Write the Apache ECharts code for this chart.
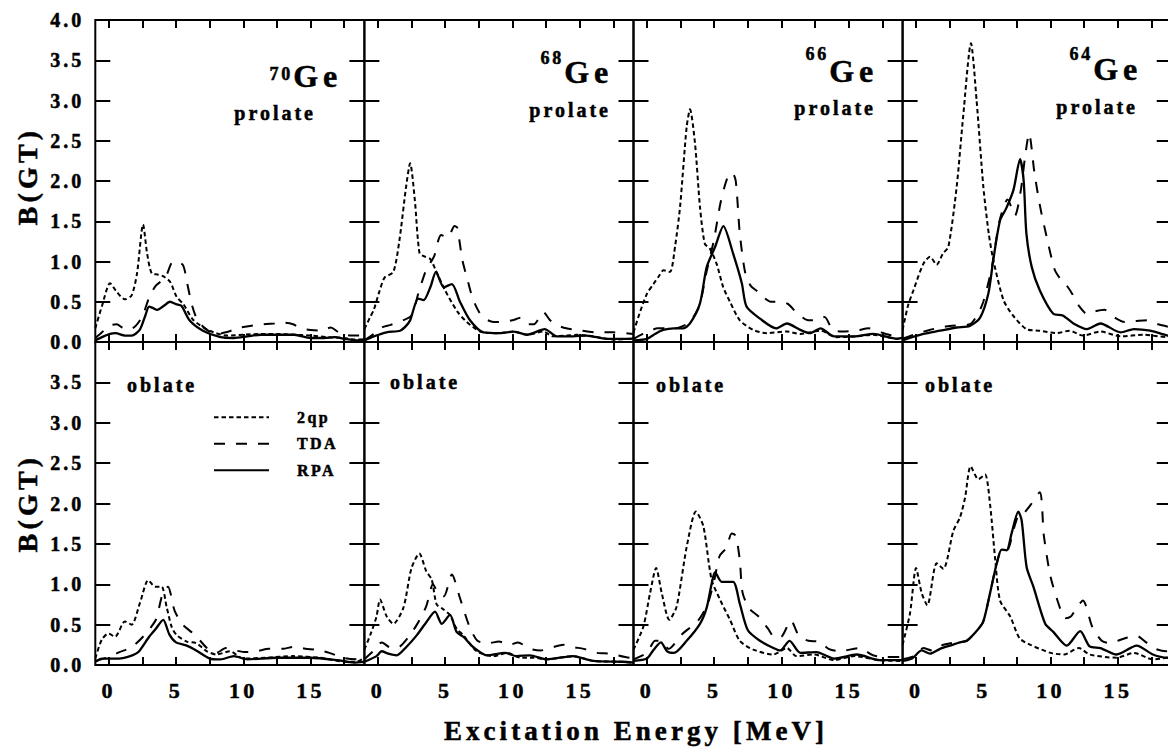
<!DOCTYPE html>
<html>
<head>
<meta charset="utf-8">
<script src="https://cdn.jsdelivr.net/npm/echarts@6/dist/echarts.min.js"></script>
<style>
  html, body { margin: 0; padding: 0; background: #fff; }
  #chart { width: 1168px; height: 751px; }
  /* spaced-out typesetting for every label */
  #chart svg text { letter-spacing: 0.15em; }
</style>
</head>
<body>
<div id="chart"></div>
<script>
// Gamow-Teller strength distributions B(GT) vs excitation energy (MeV), [E, B]
// ---- 70Ge ----
const ge70ProlateQp = [[-1,0.17],[-0.5,0.45],[0.1,0.73],[0.6,0.62],[1.2,0.53],[1.7,0.58],[2.1,0.85],[2.55,1.46],[2.85,1.1],[3.2,0.85],[3.6,0.84],[4.0,0.82],[4.55,0.75],[5.05,0.56],[5.55,0.47],[6.3,0.27],[7.5,0.14],[8.8,0.08],[10,0.09],[11.3,0.1],[12.5,0.1],[13.8,0.09],[15,0.08],[16.3,0.06],[17.5,0.05],[18.3,0.03],[19,0.03]];
const ge70ProlateTda = [[-1,0.05],[-0.5,0.12],[0,0.2],[0.6,0.22],[1.0,0.18],[1.5,0.15],[2.0,0.2],[2.5,0.32],[3.0,0.55],[3.5,0.7],[4.2,0.8],[4.8,1.0],[5.5,0.96],[5.8,0.75],[6.2,0.45],[6.6,0.27],[7.3,0.15],[8.0,0.1],[8.7,0.12],[9.8,0.18],[10.5,0.2],[11.5,0.22],[12.3,0.23],[13.0,0.24],[13.7,0.22],[14.3,0.17],[15.0,0.15],[15.8,0.14],[16.5,0.18],[17.1,0.12],[18,0.08],[19,0.08]];
const ge70ProlateRpa = [[-1,0.02],[-0.5,0.06],[0.1,0.1],[0.5,0.11],[1.2,0.08],[1.7,0.08],[2.3,0.15],[2.7,0.32],[3.0,0.44],[3.3,0.42],[3.6,0.4],[4.1,0.45],[4.55,0.5],[5.0,0.47],[5.4,0.45],[6.0,0.27],[7.0,0.14],[8.3,0.06],[9.3,0.05],[10.3,0.07],[11.3,0.09],[12.5,0.09],[13.8,0.09],[15,0.05],[16,0.05],[16.8,0.06],[17.5,0.04],[18.5,0.02],[19,0.03]];
const ge70OblateQp = [[-1,0.08],[-0.53,0.31],[-0.03,0.39],[0.47,0.35],[1.2,0.54],[1.7,0.5],[2.32,0.77],[2.94,1.05],[3.44,0.97],[3.93,0.97],[4.3,0.72],[4.68,0.47],[5.05,0.37],[5.8,0.29],[6.5,0.27],[7.3,0.17],[8.0,0.13],[9.0,0.17],[10.0,0.08],[11.7,0.09],[13.7,0.11],[15.7,0.09],[17.6,0.04],[18.4,0.04],[19,0.09]];
const ge70OblateTda = [[-1,0.05],[0,0.1],[0.8,0.16],[1.7,0.22],[2.6,0.36],[3.5,0.56],[3.95,0.85],[4.4,0.97],[4.9,0.67],[5.5,0.5],[6.2,0.4],[6.8,0.3],[7.3,0.21],[8.0,0.15],[8.7,0.21],[9.4,0.18],[10.2,0.16],[11.0,0.17],[11.9,0.2],[12.9,0.2],[13.9,0.23],[14.6,0.2],[15.4,0.19],[16.4,0.15],[17.4,0.09],[18.7,0.07],[19,0.07]];
const ge70OblateRpa = [[-1,0.04],[-0.5,0.08],[0.75,0.08],[1.75,0.12],[2.2,0.16],[3.0,0.35],[3.5,0.45],[4.05,0.56],[4.5,0.38],[5.0,0.28],[5.8,0.24],[6.5,0.18],[7.5,0.08],[8.3,0.07],[9.3,0.11],[10.3,0.07],[12.5,0.09],[15.0,0.09],[17.0,0.06],[18.2,0.03],[19,0.04]];
// ---- 68Ge ----
const ge68ProlateQp = [[-1,0.16],[-0.6,0.3],[-0.3,0.4],[0.1,0.62],[0.5,0.8],[1.15,0.87],[1.6,1.26],[2.1,1.93],[2.4,2.22],[2.75,1.76],[3.1,1.1],[3.5,1.06],[3.9,1.03],[4.25,0.91],[5.0,0.64],[5.9,0.38],[6.6,0.25],[7.6,0.13],[8.5,0.11],[9.1,0.11],[10.1,0.13],[11.1,0.09],[12.3,0.13],[13.0,0.07],[14,0.08],[14.8,0.09],[16,0.07],[17.5,0.03],[18.8,0.04],[19,0.05]];
const ge68ProlateTda = [[-1,0.02],[-0.3,0.1],[0.3,0.18],[0.9,0.21],[1.6,0.25],[2.5,0.33],[3.0,0.6],[3.6,0.9],[4.17,1.06],[4.7,1.33],[5.2,1.3],[5.7,1.44],[5.9,1.42],[6.28,1.02],[6.7,0.75],[7.05,0.54],[7.5,0.38],[7.96,0.29],[8.6,0.25],[9.2,0.25],[10.0,0.27],[10.6,0.3],[11.2,0.22],[11.6,0.22],[12.3,0.37],[12.8,0.27],[13.3,0.21],[14.0,0.17],[14.8,0.15],[16.3,0.12],[17.5,0.12],[18.3,0.11],[19,0.1]];
const ge68ProlateRpa = [[-1,0.02],[-0.3,0.07],[0.65,0.12],[1.65,0.14],[2.1,0.2],[2.4,0.27],[3.0,0.54],[3.4,0.52],[3.9,0.68],[4.32,0.87],[4.9,0.68],[5.5,0.72],[6.1,0.5],[6.85,0.27],[7.85,0.12],[9.1,0.11],[10.1,0.13],[11.1,0.09],[12.4,0.16],[13.3,0.07],[14.5,0.07],[15.5,0.08],[17,0.04],[18.8,0.04],[19,0.05]];
const ge68OblateQp = [[-1,0.19],[-0.5,0.4],[-0.1,0.6],[0.16,0.81],[0.66,0.6],[1.15,0.51],[1.9,0.71],[2.5,1.2],[3.08,1.38],[3.6,1.16],[4.0,1.06],[4.37,0.75],[4.86,0.69],[5.36,0.62],[5.85,0.45],[6.35,0.37],[7.35,0.17],[8.6,0.11],[9.6,0.15],[10.6,0.09],[11.55,0.09],[12.55,0.07],[14.5,0.11],[16,0.05],[18,0.04],[19,0.03]];
const ge68OblateTda = [[-1,0.07],[-0.3,0.18],[0.3,0.28],[0.9,0.22],[1.5,0.22],[2.2,0.33],[2.9,0.5],[3.6,0.73],[4.1,1.0],[4.5,0.88],[4.9,0.85],[5.5,1.12],[6.1,0.83],[6.8,0.48],[7.4,0.3],[8.2,0.27],[9.0,0.29],[9.8,0.25],[10.4,0.28],[11.3,0.2],[12.1,0.18],[13.0,0.22],[13.8,0.25],[14.6,0.22],[15.3,0.2],[16.3,0.15],[17.3,0.14],[18.8,0.09],[19,0.09]];
const ge68OblateRpa = [[-1,0.04],[-0.1,0.11],[0.28,0.17],[0.78,0.14],[1.4,0.12],[2.1,0.22],[2.9,0.37],[3.6,0.53],[4.25,0.66],[4.75,0.51],[5.36,0.62],[5.85,0.41],[6.35,0.35],[7.1,0.22],[8.1,0.12],[9.45,0.15],[10.3,0.11],[11.3,0.12],[12.55,0.07],[14.5,0.11],[16,0.05],[18.2,0.04],[19,0.03]];
// ---- 66Ge ----
const ge66ProlateQp = [[-1,0.12],[-0.5,0.38],[0,0.6],[0.48,0.72],[0.9,0.82],[1.22,0.89],[1.71,0.87],[2.1,1.2],[2.46,1.68],[2.95,2.67],[3.2,2.89],[3.57,2.47],[3.94,1.68],[4.3,1.22],[4.68,1.16],[5.18,0.97],[5.67,0.68],[6.17,0.5],[6.9,0.27],[7.9,0.15],[8.9,0.11],[10.4,0.13],[11.4,0.1],[12.9,0.14],[14.1,0.06],[15.5,0.07],[16.8,0.09],[18.6,0.04],[19,0.05]];
const ge66ProlateTda = [[-1,0.04],[-0.3,0.1],[0.4,0.15],[0.8,0.17],[1.5,0.17],[2.1,0.17],[2.7,0.2],[3.2,0.25],[3.9,0.45],[4.4,0.85],[4.98,1.27],[5.48,1.74],[6.0,2.05],[6.35,2.1],[6.6,2.0],[6.9,1.35],[7.29,0.87],[7.7,0.7],[8.2,0.63],[8.7,0.55],[9.2,0.5],[10.0,0.5],[10.5,0.47],[11.2,0.35],[12,0.27],[12.6,0.27],[13.2,0.31],[13.8,0.15],[14.5,0.13],[15.5,0.14],[16.5,0.17],[17.4,0.12],[18.2,0.08],[19,0.07]];
const ge66ProlateRpa = [[-1,0.02],[0,0.04],[0.6,0.1],[1.2,0.15],[2.0,0.17],[2.7,0.17],[3.2,0.23],[3.94,0.48],[4.44,0.93],[5.06,1.18],[5.68,1.44],[6.4,1.1],[7.05,0.73],[7.4,0.44],[8.4,0.29],[9.6,0.17],[10.4,0.23],[11.4,0.15],[12.1,0.11],[12.9,0.17],[13.9,0.07],[15.4,0.07],[16.8,0.1],[18.6,0.04],[19,0.05]];
const ge66OblateQp = [[-1,0.19],[-0.26,0.48],[0.23,0.89],[0.68,1.2],[1.1,0.89],[1.66,0.56],[2.2,0.72],[2.95,1.46],[3.64,1.9],[4.19,1.72],[4.8,1.06],[5.43,0.81],[6.17,0.56],[6.9,0.3],[7.9,0.19],[9.4,0.13],[10.4,0.21],[11.1,0.11],[12.4,0.13],[13.9,0.06],[15.4,0.11],[17.3,0.06],[19,0.05]];
const ge66OblateTda = [[-1,0.07],[0,0.15],[0.6,0.3],[1.0,0.3],[1.6,0.2],[2.6,0.38],[3.8,0.55],[4.5,0.75],[5.0,1.05],[5.4,1.35],[5.9,1.45],[6.3,1.63],[6.6,1.6],[6.9,1.3],[7.1,0.9],[7.6,0.7],[8.3,0.6],[9.0,0.45],[9.5,0.34],[10.0,0.35],[10.7,0.55],[11.3,0.36],[12,0.3],[12.8,0.29],[13.5,0.2],[14.3,0.17],[15.8,0.21],[16.8,0.12],[17.8,0.1],[19,0.1]];
const ge66OblateRpa = [[-1,0.05],[0,0.08],[0.5,0.19],[1.04,0.28],[1.5,0.17],[2.0,0.15],[2.95,0.3],[3.94,0.51],[4.44,0.71],[4.8,1.0],[5.06,1.15],[5.55,1.03],[6.4,1.03],[6.9,0.76],[7.5,0.43],[8.4,0.3],[9.4,0.21],[9.9,0.18],[10.6,0.3],[11.4,0.15],[12.6,0.16],[13.9,0.08],[15.6,0.13],[17.3,0.06],[19,0.06]];
// ---- 64Ge ----
const ge64ProlateQp = [[-1,0.15],[-0.6,0.45],[-0.2,0.64],[0.54,0.97],[1.04,1.06],[1.53,0.96],[2.0,1.1],[2.4,1.18],[3.02,1.93],[3.5,2.8],[4.08,3.71],[4.5,3.0],[5.0,1.93],[5.4,1.35],[5.74,1.02],[6.5,0.52],[7.2,0.33],[8.2,0.16],[9.2,0.14],[10.45,0.11],[11.4,0.14],[12.4,0.08],[13.7,0.13],[15.2,0.07],[16.9,0.09],[18.7,0.06],[19,0.06]];
const ge64ProlateTda = [[-1,0.04],[0,0.1],[1.0,0.15],[2.5,0.2],[4.0,0.22],[4.6,0.35],[5.0,0.5],[5.6,0.9],[6.2,1.5],[6.8,1.77],[7.35,1.57],[7.8,1.9],[8.1,2.3],[8.4,2.59],[8.8,2.1],[9.2,1.7],[9.7,1.31],[10.3,0.9],[10.7,0.79],[11.2,0.7],[11.6,0.6],[12.1,0.45],[12.7,0.35],[13.3,0.38],[14,0.4],[14.8,0.3],[15.5,0.25],[16.3,0.26],[17.2,0.27],[18,0.22],[19,0.18]];
const ge64ProlateRpa = [[-1,0.02],[0.54,0.1],[1.78,0.14],[3.02,0.18],[4.0,0.2],[4.75,0.3],[5.37,0.6],[5.74,1.02],[6.24,1.51],[6.7,1.66],[7.24,1.89],[7.73,2.27],[8.0,2.0],[8.2,1.35],[8.6,0.93],[9.2,0.64],[10.2,0.35],[10.9,0.33],[11.7,0.23],[12.7,0.16],[13.7,0.23],[15.2,0.12],[16.2,0.16],[17.4,0.14],[18.7,0.08],[19,0.07]];
const ge64OblateQp = [[-1,0.25],[-0.45,0.64],[0,1.2],[0.42,0.89],[0.84,0.74],[1.53,1.26],[2.03,1.19],[2.77,1.66],[3.27,1.83],[3.64,2.07],[4.06,2.46],[4.63,2.3],[5.13,2.36],[5.5,1.99],[5.87,1.33],[6.24,0.8],[7.0,0.6],[7.7,0.33],[8.5,0.25],[10.0,0.15],[11.0,0.13],[12.1,0.21],[12.9,0.13],[14.9,0.09],[16.2,0.15],[17.6,0.07],[18.7,0.09],[19,0.1]];
const ge64OblateTda = [[-1,0.07],[0,0.12],[0.54,0.21],[1.2,0.18],[2.03,0.25],[3.39,0.29],[3.8,0.3],[4.5,0.42],[5.0,0.54],[5.5,0.89],[6.0,1.26],[6.4,1.43],[6.8,1.43],[7.2,1.65],[7.6,1.85],[7.9,1.86],[8.5,1.98],[9.2,2.14],[9.5,1.6],[10.0,1.09],[10.75,0.68],[11.1,0.58],[11.5,0.6],[11.9,0.7],[12.4,0.8],[13.1,0.47],[13.8,0.3],[14.4,0.27],[15.0,0.3],[15.7,0.34],[16.4,0.36],[17.1,0.28],[17.8,0.2],[18.6,0.17],[19,0.18]];
const ge64OblateRpa = [[-1,0.05],[-0.3,0.08],[0.42,0.18],[1.04,0.14],[1.78,0.2],[2.52,0.24],[3.27,0.28],[3.76,0.3],[4.5,0.42],[5,0.54],[5.5,0.89],[6.0,1.26],[6.36,1.43],[6.73,1.42],[7.1,1.63],[7.6,1.9],[7.85,1.79],[8.22,1.21],[8.72,0.97],[9.6,0.51],[10.2,0.41],[11.2,0.24],[12.2,0.42],[12.9,0.23],[13.7,0.21],[14.9,0.13],[16.4,0.24],[17.6,0.13],[18.7,0.09],[19,0.09]];

// ---- axes ----
const xTickValues = [0, 2.5, 5, 7.5, 10, 12.5, 15, 17.5];
const xLabelValues = [0, 5, 10, 15];
const yLabelsUpper = [0, 0.5, 1, 1.5, 2, 2.5, 3, 3.5, 4];
const yLabelsLower = [0, 0.5, 1, 1.5, 2, 2.5, 3, 3.5];
const seriesNames = ['2qp', 'TDA', 'RPA'];

// ---- layout ----
const COLS = [95.3, 364.4, 633.5, 902.6];
const PANEL_W = 269.1;
const ROWS = [{ top: 20, height: 322 }, { top: 342, height: 323 }];
const FONT = "'Liberation Serif', 'Times New Roman', serif";
const INK = '#000';
const HEAVY = 0.5; // extra stroke that thickens the bold type

const panels = [
  { row: 0, col: 0, curves: [ge70ProlateQp, ge70ProlateTda, ge70ProlateRpa] },
  { row: 0, col: 1, curves: [ge68ProlateQp, ge68ProlateTda, ge68ProlateRpa] },
  { row: 0, col: 2, curves: [ge66ProlateQp, ge66ProlateTda, ge66ProlateRpa] },
  { row: 0, col: 3, curves: [ge64ProlateQp, ge64ProlateTda, ge64ProlateRpa] },
  { row: 1, col: 0, curves: [ge70OblateQp, ge70OblateTda, ge70OblateRpa] },
  { row: 1, col: 1, curves: [ge68OblateQp, ge68OblateTda, ge68OblateRpa] },
  { row: 1, col: 2, curves: [ge66OblateQp, ge66OblateTda, ge66OblateRpa] },
  { row: 1, col: 3, curves: [ge64OblateQp, ge64OblateTda, ge64OblateRpa] }
];

const lineStyles = [
  { color: INK, width: 2, type: [4.5, 3] },
  { color: INK, width: 2, type: [11, 11] },
  { color: INK, width: 2.3, type: 'solid' }
];

const tickStyle = { color: INK, width: 2 };
const labelFont = {
  color: INK, fontFamily: FONT, fontWeight: 'bold',
  textBorderColor: INK, textBorderWidth: HEAVY
};

const grids = [], xAxes = [], yAxes = [], series = [];
panels.forEach((p, i) => {
  grids.push({
    left: COLS[p.col], top: ROWS[p.row].top, width: PANEL_W, height: ROWS[p.row].height,
    show: true, borderColor: INK, borderWidth: 2, backgroundColor: 'transparent',
    containLabel: false, outerBoundsMode: 'none'
  });
  ['bottom', 'top'].forEach(pos => {
    xAxes.push({
      gridIndex: i, type: 'value', position: pos, min: -1, max: 19,
      axisLine: { show: false, onZero: false },
      splitLine: { show: false },
      axisTick: { show: true, inside: true, length: 8, customValues: xTickValues, lineStyle: tickStyle },
      axisLabel: {
        show: pos === 'bottom' && p.row === 1, customValues: xLabelValues,
        margin: 14, fontSize: 22, ...labelFont
      }
    });
  });
  ['left', 'right'].forEach(pos => {
    yAxes.push({
      gridIndex: i, type: 'value', position: pos, min: 0, max: 4, interval: 0.5,
      axisLine: { show: false, onZero: false },
      splitLine: { show: false },
      axisTick: { show: true, inside: true, length: 15, lineStyle: tickStyle },
      axisLabel: {
        show: pos === 'left' && p.col === 0,
        customValues: p.row === 0 ? yLabelsUpper : yLabelsLower,
        formatter: v => Number(v).toFixed(1),
        margin: 11, fontSize: 20, ...labelFont
      }
    });
  });
  p.curves.forEach((data, k) => {
    series.push({
      type: 'line', name: seriesNames[k],
      xAxisIndex: 2 * i, yAxisIndex: 2 * i,
      data: data, symbol: 'none', smooth: 0.25,
      lineStyle: lineStyles[k], itemStyle: { color: INK },
      silent: true, animation: false, z: 3
    });
  });
});

// panel annotations
const txt = (text, x, y, size, align, extra) => Object.assign({
  type: 'text', x: x, y: y, silent: true,
  style: {
    text: text, fill: INK, stroke: INK, lineWidth: HEAVY,
    fontFamily: FONT, fontWeight: 'bold', fontSize: size,
    align: align, verticalAlign: 'middle'
  }
}, extra || {});

const graphics = [
  // isotope names
  txt('70', 293, 74, 18, 'right'), txt('Ge', 342, 76, 32, 'right'),
  txt('68', 564, 57.5, 18, 'right'), txt('Ge', 613, 72, 32, 'right'),
  txt('66', 829, 54, 18, 'right'), txt('Ge', 878, 71, 32, 'right'),
  txt('64', 1093, 54, 18, 'right'), txt('Ge', 1142, 69, 32, 'right'),
  // deformation
  txt('prolate', 316, 113, 20, 'right'),
  txt('prolate', 611, 110, 20, 'right'),
  txt('prolate', 876, 108, 20, 'right'),
  txt('prolate', 1138, 106.5, 20, 'right'),
  txt('oblate', 127, 385, 20, 'left'),
  txt('oblate', 390, 381.5, 20, 'left'),
  txt('oblate', 656, 385, 20, 'left'),
  txt('oblate', 925, 385, 20, 'left'),
  // axis titles
  txt('B(GT)', 27.5, 176, 28, 'center', { rotation: Math.PI / 2 }),
  txt('B(GT)', 27.5, 503, 28, 'center', { rotation: Math.PI / 2 }),
  txt('Excitation Energy [MeV]', 636, 731, 27, 'center')
];

const chart = echarts.init(document.getElementById('chart'), null, { renderer: 'svg' });
chart.setOption({
  animation: false,
  backgroundColor: '#fff',
  grid: grids,
  xAxis: xAxes,
  yAxis: yAxes,
  series: series,
  legend: {
    data: seriesNames, orient: 'vertical', left: 208, top: 404,
    itemWidth: 55, itemHeight: 14, itemGap: 10, selectedMode: false,
    itemStyle: { opacity: 0 },
    textStyle: { fontSize: 16, padding: [0, 0, 0, 23], ...labelFont }
  },
  graphic: graphics
});
</script>
</body>
</html>
